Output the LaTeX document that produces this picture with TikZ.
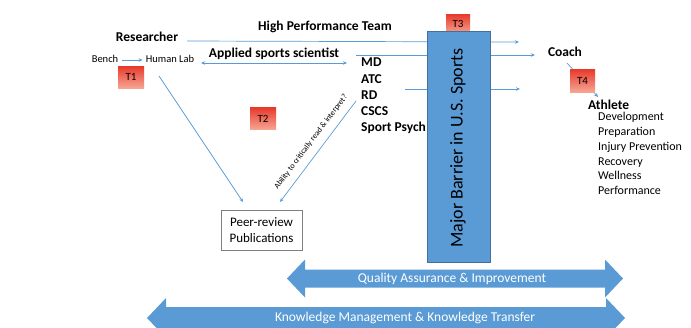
\documentclass[tikz,border=0pt]{standalone}
\usepackage{fontspec}
\setmainfont{Carlito}
\usetikzlibrary{arrows.meta}
\definecolor{barblue}{HTML}{5B9BD5}
\definecolor{baredge}{HTML}{41719C}
\definecolor{linkblue}{HTML}{5B9BD5}
\definecolor{tred}{HTML}{E8392A}
\definecolor{tpink}{HTML}{F6A594}
\definecolor{boxgray}{HTML}{808080}
\begin{document}
\begin{tikzpicture}[x=1pt,y=-1pt,
  lbl/.style={inner sep=0pt, text height=9.5pt, text depth=3pt, font=\fontsize{13.5}{16}\selectfont\bfseries},
  smalltext/.style={inner sep=0pt, text height=7.5pt, text depth=2.5pt, font=\fontsize{10.5}{12}\selectfont},
  item/.style={inner sep=0pt, anchor=west, text height=8.5pt, text depth=3pt, font=\fontsize{12}{14}\selectfont},
  tbox/.style={minimum width=26pt, minimum height=22pt, inner sep=0pt, top color=tred, bottom color=tpink, font=\fontsize{11}{13}\selectfont},
  link/.style={draw=linkblue, line width=0.7pt, -{Stealth[length=4pt,width=3.5pt]}},
  dlink/.style={draw=linkblue, line width=0.7pt, {Stealth[length=4pt,width=3.5pt]}-{Stealth[length=4pt,width=3.5pt]}},
  bigarrow/.style={fill=barblue},
  arrowtext/.style={inner sep=0pt, text=white, font=\fontsize{13.5}{16}\selectfont},
  ]
\useasboundingbox (0,0) rectangle (691,327);

% text labels
\node[lbl] (hpt) at (325,27) {High Performance Team};
\node[lbl] (res) at (147,38) {Researcher};
\node[smalltext] (bench) at (105,60) {Bench};
\node[smalltext] (hlab) at (170,60) {Human Lab};
\node[lbl] (ass) at (274,54) {Applied sports scientist};
\node[lbl,anchor=west] (md) at (361,63) {MD};
\node[lbl,anchor=west] (atc) at (361,80) {ATC};
\node[lbl,anchor=west] (rd) at (361,96) {RD};
\node[lbl,anchor=west] (cscs) at (361,112) {CSCS};
\node[lbl,anchor=west] (psych) at (361,128) {Sport Psych};
\node[lbl] (coach) at (565,53) {Coach};
\node[lbl,anchor=west] (ath) at (588,106) {Athlete};
\node[item] (dev) at (598,118) {Development};
\node[item] (prep) at (598,133) {Preparation};
\node[item] (inj) at (598,148) {Injury Prevention};
\node[item] (rec) at (598,162.5) {Recovery};
\node[item] (well) at (598,177) {Wellness};
\node[item] (perf) at (598,192) {Performance};

\node[draw=boxgray, line width=0.8pt, minimum width=81pt, minimum height=40pt, inner sep=0pt,
      align=center, font=\fontsize{13}{16}\selectfont] (peer) at (261.5,230) {Peer-review\\Publications};

% connector end points
\coordinate (resOut) at (187,41);
\coordinate (hpEnd) at (519,42);
\coordinate (labR) at (201,63);
\coordinate (mdL) at (347,63);
\coordinate (assOut) at (356,55);
\coordinate (assEnd) at (535,55);
\coordinate (grpOut) at (405,89);
\coordinate (grpEnd) at (520,89);
\coordinate (labDown) at (159,76);
\coordinate (peerA) at (243,202);
\coordinate (rdOut) at (356,101);
\coordinate (peerB) at (280,202);
\coordinate (coachOut) at (567,63);
\coordinate (athIn) at (598,97);

% connectors
\draw[link] (resOut) -- (hpEnd);
\draw[link, shorten <=4pt, shorten >=3pt] (bench.east) -- (hlab.west);
\draw[dlink] (labR) -- (mdL);
\draw[link] (assOut) -- (assEnd);
\draw[link] (grpOut) -- (grpEnd);
\draw[link] (labDown) -- (peerA);
\draw[link] (rdOut) -- (peerB);
\draw[link] (coachOut) -- (athIn);

\node[inner sep=0pt, rotate=53, font=\fontsize{8}{9}\selectfont] (ability) at (311,142) {Ability to critically read \& interpret?};

% T boxes
\node[tbox] (t1) at (131,77) {T1};
\node[tbox] (t2) at (263,118.5) {T2};
\node[tbox, minimum width=24pt, minimum height=20pt] (t3) at (458,24) {T3};
\node[tbox, minimum width=25pt, minimum height=23pt] (t4) at (582.5,80.5) {T4};

% barrier
\node[draw=baredge, fill=barblue, line width=0.6pt, minimum width=63pt, minimum height=231pt,
      inner sep=0pt] (bar) at (458.5,146.5) {};
\node[rotate=90, inner sep=0pt, font=\fontsize{18}{20}\selectfont] (bartext) at (458,148) {Major Barrier in U.S. Sports};

% big double arrows
\fill[bigarrow] (287,278.5) -- (305,259.5) -- (305,269.5) -- (605,269.5) -- (605,259.5) -- (623,278.5)
  -- (605,297.5) -- (605,287.5) -- (305,287.5) -- (305,297.5) -- cycle;
\node[arrowtext] (qa) at (452,279) {Quality Assurance \& Improvement};
\fill[bigarrow] (147,318) -- (166,298) -- (166,307) -- (606,307) -- (606,298) -- (625,318)
  -- (606,338) -- (606,329) -- (166,329) -- (166,338) -- cycle;
\node[arrowtext] (km) at (405,318) {Knowledge Management \& Knowledge Transfer};
\end{tikzpicture}
\end{document}
